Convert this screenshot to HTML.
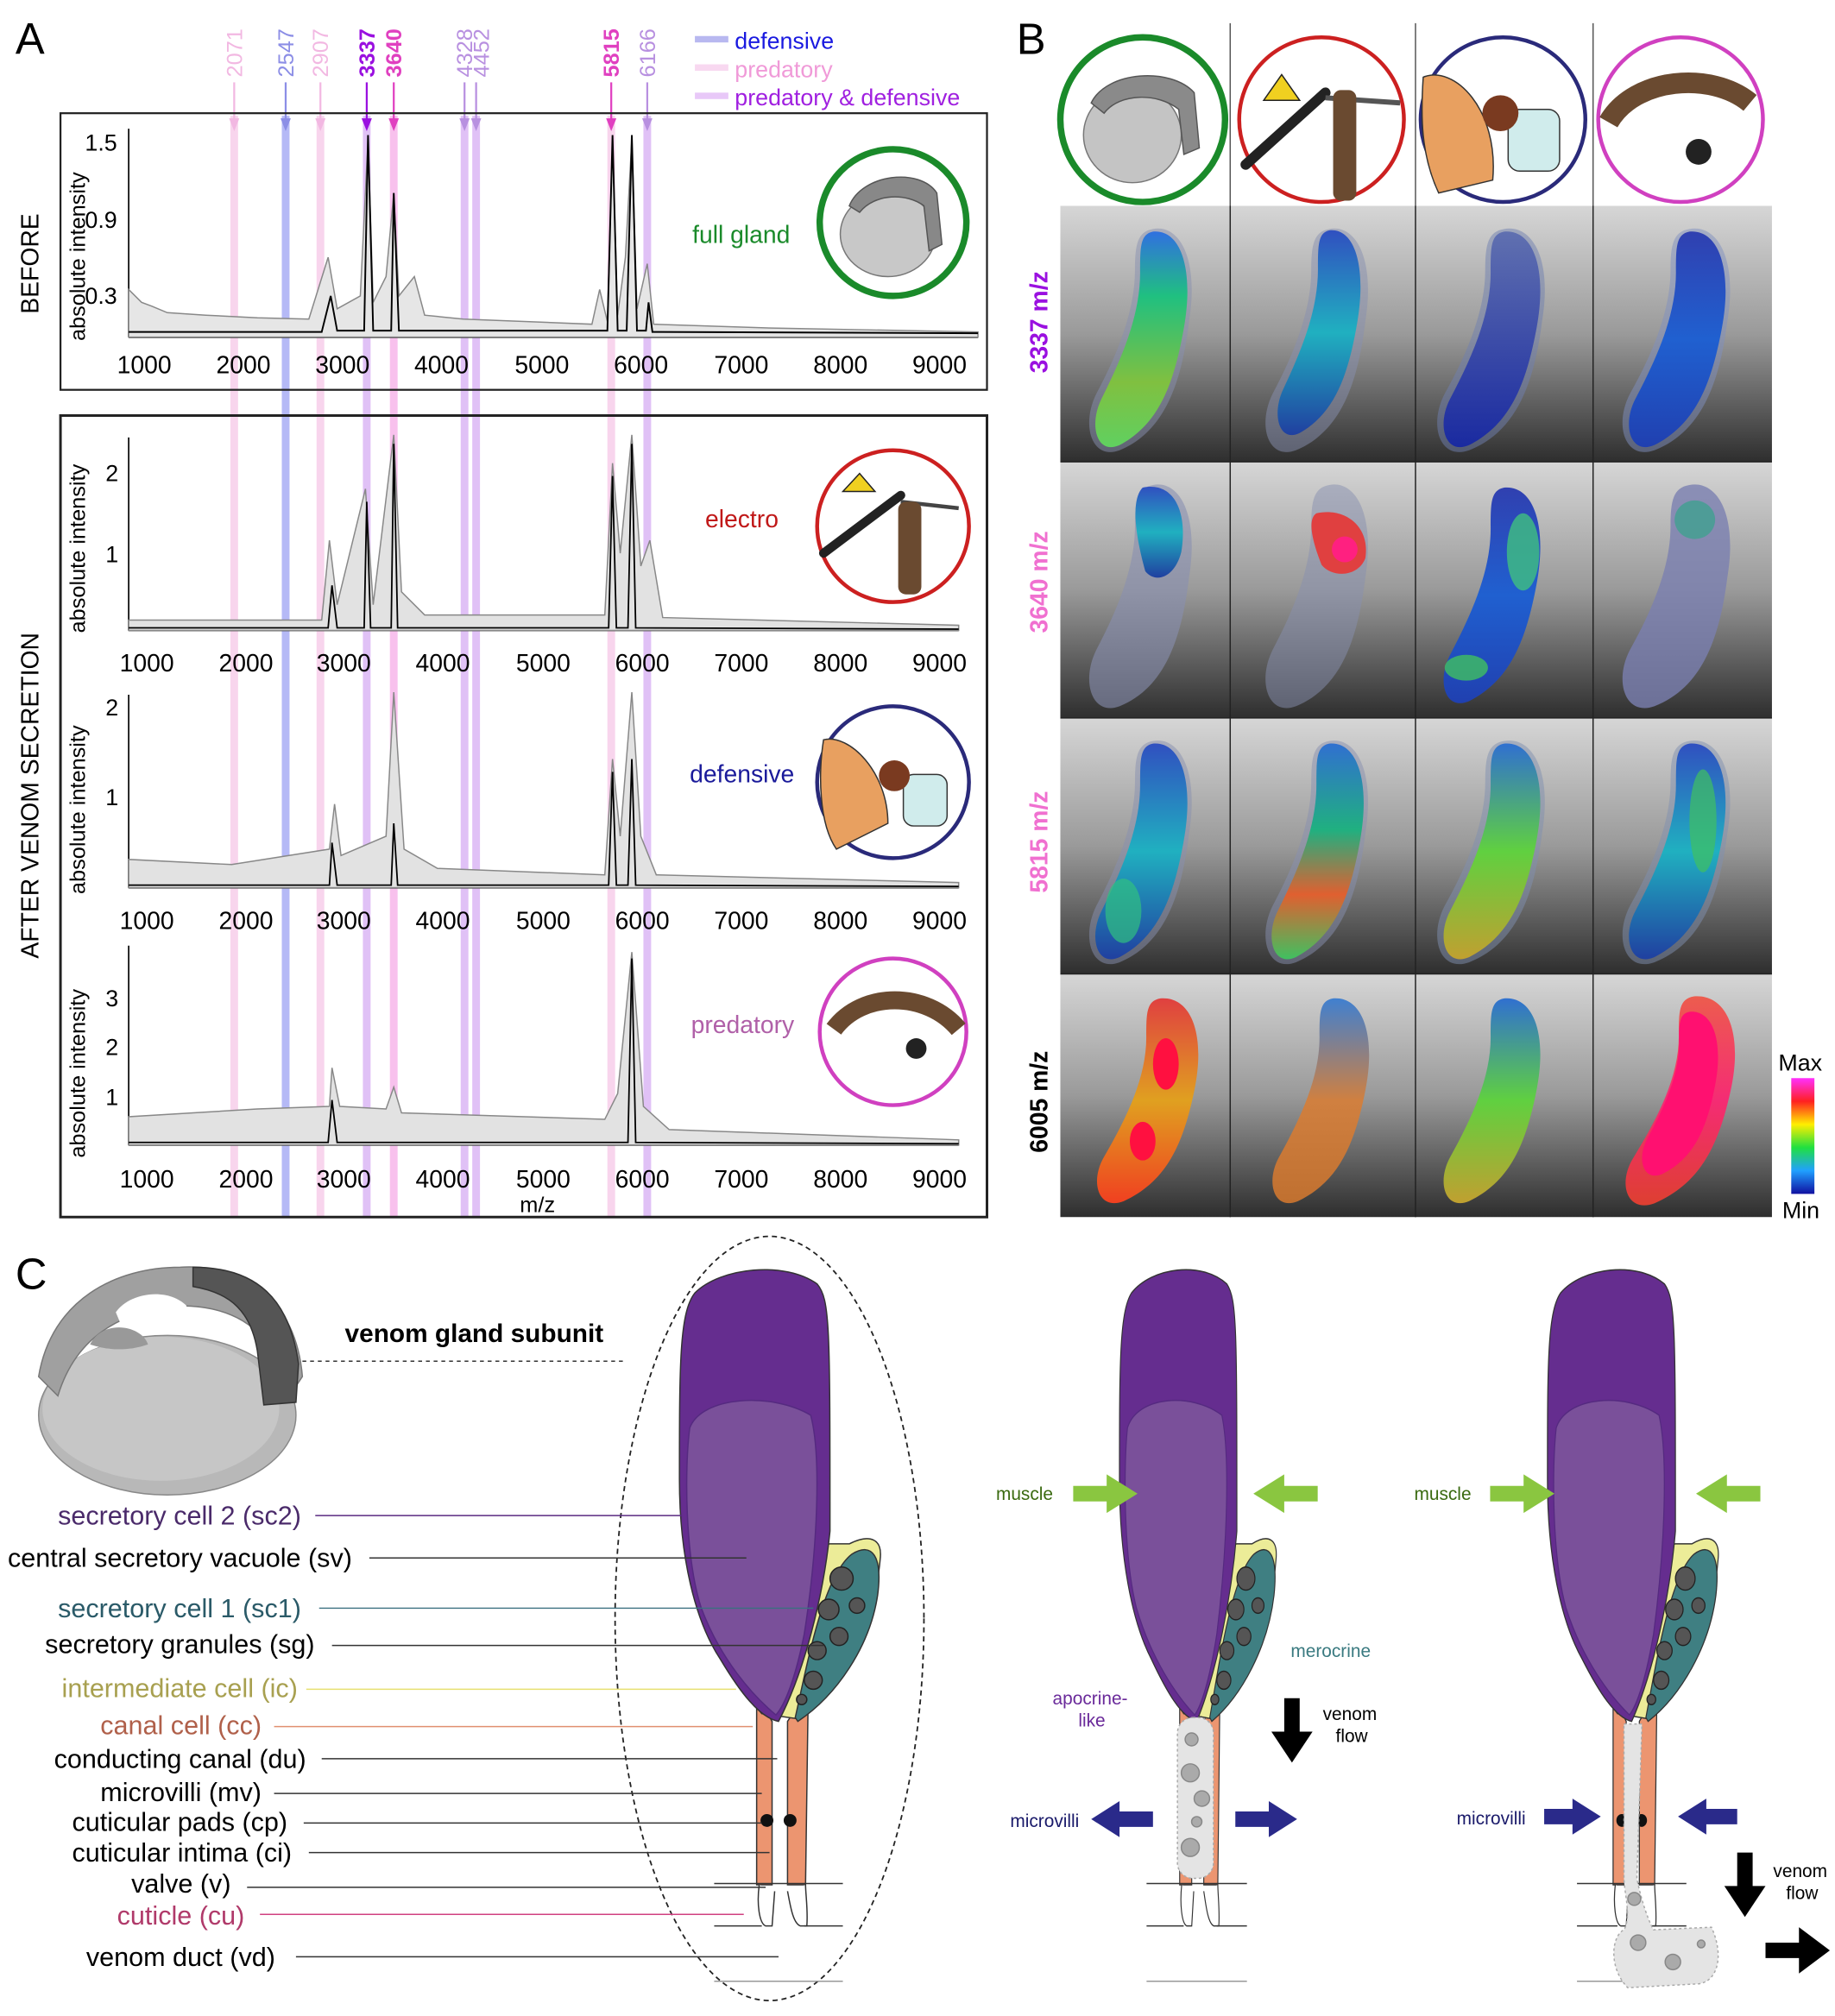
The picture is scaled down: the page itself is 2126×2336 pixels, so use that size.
<!DOCTYPE html>
<html><head><meta charset="utf-8"><style>
html,body{margin:0;padding:0;background:#fff}
svg{display:block}
text{font-family:"Liberation Sans",Arial,sans-serif}
</style></head><body>
<svg width="2126" height="2336" viewBox="0 0 1426 1567" preserveAspectRatio="none" xmlns="http://www.w3.org/2000/svg">
<defs>
<linearGradient id="bg" x1="0" y1="0" x2="0" y2="1"><stop offset="0" stop-color="#d6d6d6"/><stop offset="0.5" stop-color="#9a9a9a"/><stop offset="1" stop-color="#2e2e2e"/></linearGradient>
<linearGradient id="cb" x1="0" y1="0" x2="0" y2="1"><stop offset="0" stop-color="#ff30ff"/><stop offset="0.2" stop-color="#ff2020"/><stop offset="0.4" stop-color="#ffee00"/><stop offset="0.6" stop-color="#20e040"/><stop offset="0.8" stop-color="#20a0ff"/><stop offset="1" stop-color="#1010a0"/></linearGradient>
<linearGradient id="gG" x1="0" y1="0" x2="0" y2="1"><stop offset="0" stop-color="#3070e0"/><stop offset="0.3" stop-color="#20c080"/><stop offset="0.7" stop-color="#80c040"/><stop offset="1" stop-color="#60d060"/></linearGradient>
<linearGradient id="gC" x1="0" y1="0" x2="0" y2="1"><stop offset="0" stop-color="#3050c0"/><stop offset="0.5" stop-color="#20b0c0"/><stop offset="1" stop-color="#2040a0"/></linearGradient>
<linearGradient id="gB" x1="0" y1="0" x2="0" y2="1"><stop offset="0" stop-color="#6070b0"/><stop offset="1" stop-color="#1a2aa0"/></linearGradient>
<linearGradient id="gB2" x1="0" y1="0" x2="0" y2="1"><stop offset="0" stop-color="#3040b0"/><stop offset="0.5" stop-color="#2060d0"/><stop offset="1" stop-color="#2040b0"/></linearGradient>
<linearGradient id="gO" x1="0" y1="0" x2="0" y2="1"><stop offset="0" stop-color="#3070d0"/><stop offset="0.4" stop-color="#20b080"/><stop offset="0.7" stop-color="#e06030"/><stop offset="1" stop-color="#40c060"/></linearGradient>
<linearGradient id="gY" x1="0" y1="0" x2="0" y2="1"><stop offset="0" stop-color="#3070d0"/><stop offset="0.5" stop-color="#60d040"/><stop offset="1" stop-color="#c0a030"/></linearGradient>
<linearGradient id="gR" x1="0" y1="0" x2="0" y2="1"><stop offset="0" stop-color="#e04040"/><stop offset="0.5" stop-color="#e0a020"/><stop offset="1" stop-color="#f04020"/></linearGradient>
<linearGradient id="gM" x1="0" y1="0" x2="0" y2="1"><stop offset="0" stop-color="#f05040"/><stop offset="0.5" stop-color="#ff2070"/><stop offset="1" stop-color="#f04030"/></linearGradient>
<linearGradient id="gRG" x1="0" y1="0" x2="0" y2="1"><stop offset="0" stop-color="#4080d0"/><stop offset="0.5" stop-color="#d08040"/><stop offset="1" stop-color="#c07030"/></linearGradient>
<path id="ban" d="M58 20 C80 18 90 50 82 95 C74 140 62 170 32 186 C14 194 8 170 18 150 C34 118 48 85 48 52 C48 32 48 22 58 20 Z"/>
<path id="haze" d="M58 18 C78 14 94 40 86 90 C80 140 66 176 32 190 C10 198 2 170 14 146 C30 116 44 82 44 50 C44 30 46 20 58 18 Z"/>
</defs>
<rect width="1426" height="1567" fill="#fff"/>

<!-- ========== PANEL A ========== -->
<text x="12" y="42" font-size="34">A</text>
<g font-size="17" text-anchor="start">
<text transform="translate(188,60) rotate(-90)" fill="#f2b8e2">2071</text>
<text transform="translate(228,60) rotate(-90)" fill="#8c8ee6">2547</text>
<text transform="translate(255,60) rotate(-90)" fill="#f2b8e2">2907</text>
<text transform="translate(291,60) rotate(-90)" fill="#9a10e0" font-weight="bold">3337</text>
<text transform="translate(312,60) rotate(-90)" fill="#e040c0" font-weight="bold">3640</text>
<text transform="translate(367,60) rotate(-90)" fill="#b890e0">4328</text>
<text transform="translate(380,60) rotate(-90)" fill="#b890e0">4452</text>
<text transform="translate(481,60) rotate(-90)" fill="#e040c0" font-weight="bold">5815</text>
<text transform="translate(509,60) rotate(-90)" fill="#b890e0">6166</text>
</g>
<g font-size="18">
<rect x="540" y="28" width="26" height="5" fill="#b8b8f0"/><text x="571" y="38" fill="#1a1ae0">defensive</text>
<rect x="540" y="50" width="26" height="5" fill="#f8d8f0"/><text x="571" y="60" fill="#f09ad8">predatory</text>
<rect x="540" y="72" width="26" height="5" fill="#e8c8f8"/><text x="571" y="82" fill="#a020e0">predatory &amp; defensive</text>
</g>
<g opacity="0.55">
<rect x="179" y="90" width="6" height="856" fill="#f4b4e0"/>
<rect x="219" y="90" width="6" height="856" fill="#7a80f0"/>
<rect x="246" y="90" width="6" height="856" fill="#f4b4e0"/>
<rect x="282" y="90" width="6" height="856" fill="#c890f0"/>
<rect x="303" y="90" width="6" height="856" fill="#f490e0"/>
<rect x="358" y="90" width="6" height="856" fill="#c890f0"/>
<rect x="367" y="90" width="6" height="856" fill="#c890f0"/>
<rect x="472" y="90" width="6" height="856" fill="#f4b4e0"/>
<rect x="500" y="90" width="6" height="856" fill="#c890f0"/>
</g>
<g stroke-width="1.5">
<line x1="182" y1="64" x2="182" y2="100" stroke="#f2b8e2"/><path d="M178 92 L182 102 L186 92Z" fill="#f2b8e2"/>
<line x1="222" y1="64" x2="222" y2="100" stroke="#8c8ee6"/><path d="M218 92 L222 102 L226 92Z" fill="#8c8ee6"/>
<line x1="249" y1="64" x2="249" y2="100" stroke="#f2b8e2"/><path d="M245 92 L249 102 L253 92Z" fill="#f2b8e2"/>
<line x1="285" y1="64" x2="285" y2="100" stroke="#9a10e0"/><path d="M281 92 L285 102 L289 92Z" fill="#9a10e0"/>
<line x1="306" y1="64" x2="306" y2="100" stroke="#e040c0"/><path d="M302 92 L306 102 L310 92Z" fill="#e040c0"/>
<line x1="361" y1="64" x2="361" y2="100" stroke="#b890e0"/><path d="M357 92 L361 102 L365 92Z" fill="#b890e0"/>
<line x1="370" y1="64" x2="370" y2="100" stroke="#b890e0"/><path d="M366 92 L370 102 L374 92Z" fill="#b890e0"/>
<line x1="475" y1="64" x2="475" y2="100" stroke="#e040c0"/><path d="M471 92 L475 102 L479 92Z" fill="#e040c0"/>
<line x1="503" y1="64" x2="503" y2="100" stroke="#b890e0"/><path d="M499 92 L503 102 L507 92Z" fill="#b890e0"/>
</g>
<rect x="47" y="88" width="720" height="215" fill="none" stroke="#222" stroke-width="1.5"/>
<rect x="47" y="323" width="720" height="623" fill="none" stroke="#222" stroke-width="2"/>
<text transform="translate(30,244) rotate(-90)" font-size="19">BEFORE</text>
<text transform="translate(30,745) rotate(-90)" font-size="19">AFTER VENOM SECRETION</text>

<g>
<line x1="100" y1="262" x2="760" y2="262" stroke="#111" stroke-width="1.5"/>
<line x1="100" y1="100" x2="100" y2="262" stroke="#111" stroke-width="1.2"/>
<text transform="translate(66,265) rotate(-90)" font-size="17">absolute intensity</text>
<text x="66" y="117" font-size="18">1.5</text><text x="66" y="177" font-size="18">0.9</text><text x="66" y="236" font-size="18">0.3</text>
<path d="M100 262 L100 225 L110 235 L118 238 L130 243 L160 245 L200 247 L240 248 L255 200 L262 240 L280 230 L286 108 L290 235 L300 215 L306 150 L310 230 L322 215 L330 245 L360 248 L460 252 L466 225 L472 250 L476 110 L480 245 L486 200 L491 108 L495 240 L503 205 L508 252 L600 255 L760 258 L760 262Z" fill="#e6e6e6" stroke="#888" stroke-width="1"/>
<path d="M100 258 L250 258 L257 230 L262 257 L283 257 L286 105 L290 257 L304 257 L306 150 L310 257 L472 257 L476 105 L480 257 L487 257 L491 105 L495 257 L502 257 L504 235 L507 258 L760 259" fill="none" stroke="#000" stroke-width="1.3"/>
<g font-size="19"><text x="91" y="290">1000</text><text x="168" y="290">2000</text><text x="245" y="290">3000</text><text x="322" y="290">4000</text><text x="400" y="290">5000</text><text x="477" y="290">6000</text><text x="555" y="290">7000</text><text x="632" y="290">8000</text><text x="709" y="290">9000</text></g>
<text x="538" y="189" font-size="19" fill="#1a8a2a">full gland</text>
</g>

<g>
<line x1="100" y1="490" x2="745" y2="490" stroke="#111" stroke-width="1.3"/>
<line x1="100" y1="340" x2="100" y2="490" stroke="#111" stroke-width="1.2"/>
<text transform="translate(66,492) rotate(-90)" font-size="17">absolute intensity</text>
<text x="82" y="374" font-size="18">2</text><text x="82" y="437" font-size="18">1</text>
<path d="M100 490 L100 482 L250 482 L256 420 L262 470 L284 380 L290 470 L306 338 L312 460 L330 478 L470 478 L476 360 L482 430 L491 338 L498 440 L505 420 L515 480 L745 486 L745 490Z" fill="#e2e2e2" stroke="#888"/>
<path d="M100 488 L255 488 L258 455 L262 488 L283 488 L285 390 L288 488 L304 488 L306 345 L309 488 L473 488 L476 370 L479 488 L488 488 L491 345 L494 488 L745 489" fill="none" stroke="#000" stroke-width="1.2"/>
<g font-size="19"><text x="93" y="522">1000</text><text x="170" y="522">2000</text><text x="246" y="522">3000</text><text x="323" y="522">4000</text><text x="401" y="522">5000</text><text x="478" y="522">6000</text><text x="555" y="522">7000</text><text x="632" y="522">8000</text><text x="709" y="522">9000</text></g>
<text x="548" y="410" font-size="19" fill="#c01818">electro</text>
</g>

<g>
<line x1="100" y1="690" x2="745" y2="690" stroke="#111" stroke-width="1.3"/>
<line x1="100" y1="540" x2="100" y2="690" stroke="#111" stroke-width="1.2"/>
<text transform="translate(66,695) rotate(-90)" font-size="17">absolute intensity</text>
<text x="82" y="556" font-size="18">2</text><text x="82" y="626" font-size="18">1</text>
<path d="M100 690 L100 668 L180 672 L256 660 L260 625 L265 665 L300 650 L306 538 L314 660 L340 675 L470 680 L476 590 L482 650 L491 538 L498 650 L510 680 L745 686 L745 690Z" fill="#e2e2e2" stroke="#888"/>
<path d="M100 688 L256 688 L258 655 L262 688 L304 688 L306 640 L309 688 L473 688 L476 600 L479 688 L488 688 L491 590 L494 688 L745 689" fill="none" stroke="#000" stroke-width="1.2"/>
<g font-size="19"><text x="93" y="722">1000</text><text x="170" y="722">2000</text><text x="246" y="722">3000</text><text x="323" y="722">4000</text><text x="401" y="722">5000</text><text x="478" y="722">6000</text><text x="555" y="722">7000</text><text x="632" y="722">8000</text><text x="709" y="722">9000</text></g>
<text x="536" y="608" font-size="19" fill="#1a1a9a">defensive</text>
</g>

<g>
<line x1="100" y1="890" x2="745" y2="890" stroke="#111" stroke-width="1.3"/>
<line x1="100" y1="735" x2="100" y2="890" stroke="#111" stroke-width="1.2"/>
<text transform="translate(66,900) rotate(-90)" font-size="17">absolute intensity</text>
<text x="82" y="782" font-size="18">3</text><text x="82" y="820" font-size="18">2</text><text x="82" y="859" font-size="18">1</text>
<path d="M100 890 L100 868 L200 862 L256 860 L258 830 L264 860 L300 862 L306 845 L312 865 L470 870 L480 850 L491 740 L500 860 L520 878 L745 886 L745 890Z" fill="#e2e2e2" stroke="#888"/>
<path d="M100 888 L255 888 L258 855 L262 888 L488 888 L491 745 L494 888 L745 889" fill="none" stroke="#000" stroke-width="1.2"/>
<g font-size="19"><text x="93" y="923">1000</text><text x="170" y="923">2000</text><text x="246" y="923">3000</text><text x="323" y="923">4000</text><text x="401" y="923">5000</text><text x="478" y="923">6000</text><text x="555" y="923">7000</text><text x="632" y="923">8000</text><text x="709" y="923">9000</text></g>
<text x="404" y="942" font-size="17">m/z</text>
<text x="537" y="803" font-size="19" fill="#b060a8">predatory</text>
</g>

<g>
<circle cx="694" cy="173" r="57" fill="#fff" stroke="#1a8a2a" stroke-width="5"/>
<ellipse cx="690" cy="182" rx="37" ry="33" fill="#c8c8c8" stroke="#777"/>
<path d="M660 160 C670 135 715 130 728 150 L732 190 L722 195 L718 160 C705 150 680 150 668 165Z" fill="#888" stroke="#555"/>
<circle cx="694" cy="409" r="59" fill="#fff" stroke="#cc2020" stroke-width="3"/>
<path d="M640 430 L700 385" stroke="#222" stroke-width="7" stroke-linecap="round"/><path d="M700 390 L745 395" stroke="#444" stroke-width="3"/>
<rect x="698" y="390" width="18" height="72" rx="6" fill="#6a4a30"/>
<path d="M655 382 L668 368 L680 382Z" fill="#f0d020" stroke="#222"/>
<circle cx="694" cy="608" r="59" fill="#fff" stroke="#2a2a7a" stroke-width="3"/>
<path d="M640 575 C660 570 690 600 690 640 L650 660 C636 640 636 600 640 575Z" fill="#e8a060" stroke="#333"/>
<rect x="702" y="602" width="34" height="40" rx="8" fill="#d0ecec" stroke="#333"/><circle cx="695" cy="603" r="12" fill="#7a3a20"/>
<circle cx="694" cy="802" r="57" fill="#fff" stroke="#d040c0" stroke-width="3"/>
<path d="M648 800 C670 770 720 770 745 800" stroke="#6a4a30" stroke-width="14" fill="none"/><circle cx="712" cy="815" r="8" fill="#222"/>
</g>

<!-- ========== PANEL B ========== -->
<text x="790" y="42" font-size="34">B</text>
<g stroke="#555" stroke-width="1"><line x1="956" y1="18" x2="956" y2="946"/><line x1="1100" y1="18" x2="1100" y2="946"/><line x1="1238" y1="18" x2="1238" y2="946"/></g>
<g>
<circle cx="888" cy="93" r="64" fill="#fff" stroke="#1a8a2a" stroke-width="5"/>
<ellipse cx="880" cy="105" rx="38" ry="37" fill="#c4c4c4" stroke="#777"/>
<path d="M848 80 C860 55 910 52 928 72 L932 115 L920 120 L916 85 C900 72 870 72 858 88Z" fill="#8a8a8a" stroke="#555"/>
<circle cx="1027" cy="93" r="64" fill="#fff" stroke="#cc2020" stroke-width="3"/>
<path d="M968 128 L1030 72" stroke="#222" stroke-width="8" stroke-linecap="round"/><path d="M1030 76 L1088 80" stroke="#555" stroke-width="4"/>
<rect x="1036" y="70" width="18" height="86" rx="6" fill="#6a4a30"/>
<path d="M982 78 L996 58 L1010 78Z" fill="#f0d020" stroke="#222"/>
<circle cx="1168" cy="93" r="64" fill="#fff" stroke="#2a2a7a" stroke-width="3"/>
<path d="M1106 60 C1130 50 1165 85 1160 140 L1118 150 C1104 120 1104 90 1106 60Z" fill="#e8a060" stroke="#333"/>
<rect x="1172" y="85" width="40" height="48" rx="9" fill="#d0ecec" stroke="#333"/><circle cx="1166" cy="88" r="14" fill="#7a3a20"/>
<circle cx="1306" cy="93" r="64" fill="#fff" stroke="#d040c0" stroke-width="3"/>
<path d="M1250 95 C1270 60 1330 55 1360 80" stroke="#6a4a30" stroke-width="16" fill="none"/><circle cx="1320" cy="118" r="10" fill="#222"/>
</g>
<g>
<rect x="824" y="160" width="553" height="199" fill="url(#bg)"/>
<rect x="824" y="359" width="553" height="199" fill="url(#bg)"/>
<rect x="824" y="558" width="553" height="199" fill="url(#bg)"/>
<rect x="824" y="757" width="553" height="189" fill="url(#bg)"/>
<g stroke="#222" stroke-width="1"><line x1="824" y1="359" x2="1377" y2="359"/><line x1="824" y1="558" x2="1377" y2="558"/><line x1="824" y1="757" x2="1377" y2="757"/>
<line x1="956" y1="160" x2="956" y2="946"/><line x1="1100" y1="160" x2="1100" y2="946"/><line x1="1238" y1="160" x2="1238" y2="946"/></g>
<g transform="translate(838,160)"><use href="#haze" fill="#8890b0" opacity="0.5"/><use href="#ban" fill="url(#gG)"/></g>
<g transform="translate(975,160)"><use href="#haze" fill="#8890b0" opacity="0.5"/><use href="#ban" fill="url(#gC)" transform="translate(6,0) scale(0.9,0.95)"/></g>
<g transform="translate(1108,160) scale(1.05,1)"><use href="#haze" fill="#7080b0" opacity="0.5"/><use href="#ban" fill="url(#gB)"/></g>
<g transform="translate(1252,160) scale(1.05,1)"><use href="#haze" fill="#8090c0" opacity="0.5"/><use href="#ban" fill="url(#gB2)"/></g>
<g transform="translate(838,359)"><use href="#haze" fill="#8890b0" opacity="0.6"/><path d="M50 20 C75 15 85 40 80 70 C75 90 60 95 52 85 C45 60 40 30 50 20Z" fill="url(#gC)"/></g>
<g transform="translate(975,359)"><use href="#haze" fill="#8890b0" opacity="0.5"/><path d="M48 40 C70 35 90 50 86 75 C80 90 60 90 52 80 C46 65 40 45 48 40Z" fill="#e04040"/><ellipse cx="70" cy="68" rx="10" ry="10" fill="#ff2080"/></g>
<g transform="translate(1108,359) scale(1.05,1)"><use href="#ban" fill="url(#gB2)"/><ellipse cx="72" cy="70" rx="12" ry="30" fill="#40c080" opacity="0.8"/><ellipse cx="30" cy="160" rx="16" ry="10" fill="#40c060" opacity="0.8"/></g>
<g transform="translate(1252,359) scale(1.05,1)"><use href="#haze" fill="#7a80b0" opacity="0.8"/><ellipse cx="62" cy="45" rx="15" ry="15" fill="#40a090" opacity="0.8"/></g>
<g transform="translate(838,558)"><use href="#haze" fill="#8890b0" opacity="0.5"/><use href="#ban" fill="url(#gC)"/><ellipse cx="35" cy="150" rx="14" ry="25" fill="#30c080" opacity="0.7"/></g>
<g transform="translate(975,558)"><use href="#haze" fill="#8890b0" opacity="0.5"/><use href="#ban" fill="url(#gO)"/></g>
<g transform="translate(1108,558) scale(1.05,1)"><use href="#haze" fill="#8090b0" opacity="0.5"/><use href="#ban" fill="url(#gY)"/></g>
<g transform="translate(1252,558) scale(1.05,1)"><use href="#haze" fill="#8090b0" opacity="0.5"/><use href="#ban" fill="url(#gC)"/><ellipse cx="68" cy="80" rx="10" ry="40" fill="#40c060" opacity="0.7"/></g>
<g transform="translate(838,757)"><use href="#ban" fill="url(#gR)" transform="scale(1.1,0.95)"/><ellipse cx="68" cy="70" rx="10" ry="20" fill="#ff1040"/><ellipse cx="50" cy="130" rx="10" ry="15" fill="#ff1040"/></g>
<g transform="translate(975,757)"><use href="#ban" fill="url(#gRG)" transform="scale(1.05,0.95)"/></g>
<g transform="translate(1108,757) scale(1.05,0.95)"><use href="#ban" fill="url(#gY)"/></g>
<g transform="translate(1252,757) scale(1.1,0.95)"><use href="#ban" fill="url(#gM)" transform="translate(-4,-2) scale(1.08,1.02)" opacity="0.9"/><use href="#ban" fill="#ff1070" transform="translate(12,15) scale(0.75,0.8)"/></g>
</g>
<text transform="translate(814,290) rotate(-90)" font-size="19" font-weight="bold" fill="#9a10e0">3337 m/z</text>
<text transform="translate(814,492) rotate(-90)" font-size="19" font-weight="bold" fill="#f070d0">3640 m/z</text>
<text transform="translate(814,694) rotate(-90)" font-size="19" font-weight="bold" fill="#f070d0">5815 m/z</text>
<text transform="translate(814,896) rotate(-90)" font-size="19" font-weight="bold" fill="#000">6005 m/z</text>
<text x="1382" y="832" font-size="18">Max</text>
<rect x="1392" y="838" width="18" height="90" fill="url(#cb)"/>
<text x="1385" y="947" font-size="18">Min</text>

<!-- ========== PANEL C ========== -->
<text x="12" y="1002" font-size="34">C</text>
<g>
<ellipse cx="130" cy="1100" rx="100" ry="62" fill="#b8b8b8" stroke="#888"/>
<ellipse cx="125" cy="1095" rx="92" ry="56" fill="#c6c6c6"/>
<path d="M30 1070 C40 1010 90 985 140 985 C190 982 230 1010 235 1070 L225 1085 C215 1040 190 1015 140 1015 C100 1018 60 1035 45 1085Z" fill="#a0a0a0" stroke="#777"/>
<path d="M150 985 C200 985 225 1010 232 1060 L230 1090 L205 1092 L200 1050 C195 1020 180 1005 150 1000Z" fill="#555" stroke="#333"/>
<path d="M90 1020 C100 1005 130 1000 145 1015 L140 1030 L95 1032Z" fill="#fff"/>
<path d="M70 1045 C80 1025 110 1030 115 1045 C100 1050 85 1050 70 1045Z" fill="#999"/>
</g>
<text x="268" y="1043" font-size="20" font-weight="bold">venom gland subunit</text>
<line x1="235" y1="1058" x2="486" y2="1058" stroke="#333" stroke-dasharray="3,3"/>
<ellipse cx="598" cy="1258" rx="120" ry="297" fill="none" stroke="#222" stroke-dasharray="4,3" stroke-width="1.2"/>

<g id="cell">
<path d="M555 1260 C572 1290 586 1305 588 1325 L588 1465 L600 1465 L600 1338 Z" fill="#ec9570" stroke="#333"/>
<path d="M612 1338 L612 1465 L626 1465 L628 1322 C634 1300 660 1280 678 1240 Z" fill="#ec9570" stroke="#333"/>
<path d="M535 1215 C540 1268 565 1300 592 1332 L620 1336 C650 1300 680 1262 684 1212 C686 1196 676 1192 660 1200 L645 1200 Z" fill="#ecec98" stroke="#333"/>
<path d="M540 1005 C560 985 610 980 635 998 C645 1010 645 1030 645 1190 C640 1240 625 1300 605 1338 C590 1335 575 1315 560 1290 C540 1260 528 1210 528 1150 C528 1060 528 1020 540 1005Z" fill="#652d8f" stroke="#333"/>
<path d="M536 1110 C545 1085 600 1082 630 1100 C638 1130 636 1200 625 1270 C618 1305 610 1325 603 1333 C585 1318 560 1290 545 1250 C532 1210 532 1140 536 1110Z" fill="#7a509a" stroke="#552a80"/>
<path d="M618 1335 C628 1290 640 1225 662 1208 C678 1198 686 1210 682 1240 C676 1280 650 1318 620 1338Z" fill="#3f7f82" stroke="#333"/>
<g fill="#555" stroke="#222"><circle cx="654" cy="1227" r="9"/><circle cx="644" cy="1251" r="8"/><circle cx="666" cy="1248" r="6"/><circle cx="652" cy="1272" r="7"/><circle cx="635" cy="1283" r="7"/><circle cx="632" cy="1306" r="7"/><circle cx="623" cy="1321" r="4"/></g>
<circle cx="596" cy="1415" r="5" fill="#111"/><circle cx="614" cy="1415" r="5" fill="#111"/>
<path d="M590 1465 C588 1480 590 1495 595 1497 L600 1497 L602 1470 M612 1470 C614 1480 616 1495 622 1497 L627 1497 C628 1485 626 1472 626 1465" fill="#fff" stroke="#333"/>
<line x1="555" y1="1464" x2="655" y2="1464" stroke="#333"/>
<line x1="555" y1="1497" x2="592" y2="1497" stroke="#333"/><line x1="625" y1="1497" x2="655" y2="1497" stroke="#333"/>
<line x1="555" y1="1540" x2="655" y2="1540" stroke="#999"/>
</g>

<g transform="translate(930,0) scale(0.78,1) translate(-605,0)"><use href="#cell"/></g>
<rect x="915" y="1335" width="28" height="125" rx="12" fill="#e4e4e4" stroke="#aaa" stroke-dasharray="2,2"/>
<g fill="#aaa" stroke="#888"><circle cx="926" cy="1352" r="5"/><circle cx="925" cy="1378" r="7"/><circle cx="934" cy="1398" r="6"/><circle cx="930" cy="1416" r="4"/><circle cx="925" cy="1436" r="7"/></g>
<g transform="translate(1268,0) scale(0.85,1) translate(-605,0)"><use href="#cell"/></g>
<path d="M1262 1340 L1276 1340 L1272 1460 C1276 1480 1282 1495 1285 1500 L1330 1498 C1340 1520 1335 1540 1320 1542 L1265 1545 C1250 1530 1252 1505 1262 1500 C1268 1490 1262 1470 1262 1460Z" fill="#e4e4e4" stroke="#aaa" stroke-dasharray="2,2"/>
<g fill="#aaa" stroke="#888"><circle cx="1270" cy="1476" r="5"/><circle cx="1273" cy="1510" r="6"/><circle cx="1300" cy="1525" r="6"/><circle cx="1322" cy="1511" r="3"/></g>

<g fill="#8ac640">
<path d="M834 1155 L860 1155 L860 1146 L884 1161 L860 1176 L860 1167 L834 1167Z"/>
<path d="M1024 1155 L998 1155 L998 1146 L974 1161 L998 1176 L998 1167 L1024 1167Z"/>
<path d="M1158 1155 L1184 1155 L1184 1146 L1208 1161 L1184 1176 L1184 1167 L1158 1167Z"/>
<path d="M1368 1155 L1342 1155 L1342 1146 L1318 1161 L1342 1176 L1342 1167 L1368 1167Z"/>
</g>
<text x="774" y="1166" font-size="14" fill="#3a6a10">muscle</text>
<text x="1099" y="1166" font-size="14" fill="#3a6a10">muscle</text>
<g fill="#2a2a8a">
<path d="M896 1408 L870 1408 L870 1400 L848 1414 L870 1428 L870 1420 L896 1420Z"/>
<path d="M960 1408 L986 1408 L986 1400 L1008 1414 L986 1428 L986 1420 L960 1420Z"/>
<path d="M1200 1406 L1222 1406 L1222 1398 L1244 1412 L1222 1426 L1222 1418 L1200 1418Z"/>
<path d="M1350 1406 L1326 1406 L1326 1398 L1304 1412 L1326 1426 L1326 1418 L1350 1418Z"/>
</g>
<text x="785" y="1420" font-size="14" fill="#1a1a6a">microvilli</text>
<text x="1132" y="1418" font-size="14" fill="#1a1a6a">microvilli</text>
<path d="M998 1320 L1010 1320 L1010 1346 L1020 1346 L1004 1370 L988 1346 L998 1346Z" fill="#000"/>
<text x="1028" y="1337" font-size="14">venom</text><text x="1038" y="1354" font-size="14">flow</text>
<path d="M1350 1440 L1362 1440 L1362 1466 L1372 1466 L1356 1490 L1340 1466 L1350 1466Z" fill="#000"/>
<text x="1378" y="1459" font-size="14">venom</text><text x="1388" y="1476" font-size="14">flow</text>
<path d="M1372 1510 L1398 1510 L1398 1498 L1422 1516 L1398 1534 L1398 1522 L1372 1522Z" fill="#000"/>
<text x="1003" y="1288" font-size="14" fill="#3a7a80">merocrine</text>
<text x="818" y="1325" font-size="14" fill="#6a2a9a">apocrine-</text><text x="838" y="1342" font-size="14" fill="#6a2a9a">like</text>

<g font-size="20.5">
<text x="45" y="1185" fill="#4a2a6a">secretory cell 2 (sc2)</text><line x1="245" y1="1178" x2="530" y2="1178" stroke="#5a2a80"/>
<text x="6" y="1218">central secretory vacuole (sv)</text><line x1="287" y1="1211" x2="580" y2="1211" stroke="#333"/>
<text x="45" y="1257" fill="#2a5a68">secretory cell 1 (sc1)</text><line x1="248" y1="1250" x2="632" y2="1250" stroke="#3a7080"/>
<text x="35" y="1285">secretory granules (sg)</text><line x1="258" y1="1279" x2="640" y2="1279" stroke="#333"/>
<text x="48" y="1319" fill="#a8a050">intermediate cell (ic)</text><line x1="238" y1="1313" x2="572" y2="1313" stroke="#e8e070"/>
<text x="78" y="1348" fill="#b0604a">canal cell (cc)</text><line x1="213" y1="1342" x2="585" y2="1342" stroke="#e09070"/>
<text x="42" y="1374">conducting canal (du)</text><line x1="250" y1="1367" x2="604" y2="1367" stroke="#333"/>
<text x="78" y="1400">microvilli (mv)</text><line x1="213" y1="1394" x2="592" y2="1394" stroke="#333"/>
<text x="56" y="1423">cuticular pads (cp)</text><line x1="236" y1="1417" x2="592" y2="1417" stroke="#333"/>
<text x="56" y="1447">cuticular intima (ci)</text><line x1="240" y1="1440" x2="598" y2="1440" stroke="#333"/>
<text x="102" y="1471">valve (v)</text><line x1="192" y1="1467" x2="595" y2="1467" stroke="#333"/>
<text x="91" y="1496" fill="#b03a6a">cuticle (cu)</text><line x1="202" y1="1488" x2="578" y2="1488" stroke="#d04080"/>
<text x="67" y="1528">venom duct (vd)</text><line x1="230" y1="1521" x2="605" y2="1521" stroke="#333"/>
</g>
</svg>
</body></html>
